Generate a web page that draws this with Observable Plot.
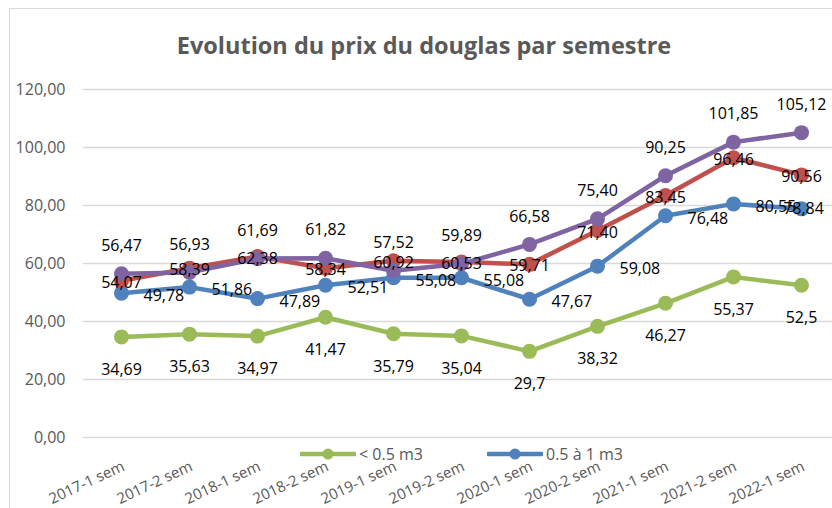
<!DOCTYPE html>
<html>
<head>
<meta charset="utf-8">
<script src="https://cdn.jsdelivr.net/npm/d3@7"></script>
<script src="https://cdn.jsdelivr.net/npm/@observablehq/plot@0.6"></script>
<style>
  html, body { margin: 0; padding: 0; background: #fff; }
  #wrap { position: relative; width: 832px; height: 508px; overflow: hidden; font-family: "Open Sans", "Noto Sans", sans-serif; }
  #frame { position: absolute; left: 9px; top: 8px; width: 900px; height: 600px; border: 1.5px solid #d9d9d9; box-sizing: border-box; pointer-events: none; }
  #title { position: relative; height: 70px; box-sizing: border-box; padding-top: 31px; padding-left: 16px; text-align: center; font-size: 23.5px; line-height: 28px; font-weight: bold; color: #595959; }
  #chart svg { display: block; }
  #legend { position: absolute; top: 444px; left: 0; width: 832px; height: 20px; font-size: 16px; color: #595959; }
  .item { position: absolute; top: 0; display: flex; align-items: center; height: 20px; white-space: nowrap; }
  .item svg { margin-right: 3px; }
</style>
</head>
<body>
<div id="wrap">
  <div id="frame"></div>
  <div id="title">Evolution du prix du douglas par semestre</div>
  <div id="chart"></div>
  <div id="legend"></div>
</div>
<script>
const categories = ["2017-1 sem", "2017-2 sem", "2018-1 sem", "2018-2 sem", "2019-1 sem", "2019-2 sem", "2020-1 sem", "2020-2 sem", "2021-1 sem", "2021-2 sem", "2022-1 sem"];
const seriesNames = ["< 0.5 m3", "0.5 à 1 m3", "1 à 2 m3", "> 2 m3"];
const seriesColors = ["#9BBB59", "#4F81BD", "#C0504D", "#8064A2"];
const smallValues = [34.69, 35.63, 34.97, 41.47, 35.79, 35.04, 29.7, 38.32, 46.27, 55.37, 52.5];
const mediumValues = [49.78, 51.86, 47.89, 52.51, 55.08, 55.08, 47.67, 59.08, 76.48, 80.55, 78.84];
const largeValues = [54.07, 58.39, 62.38, 58.34, 60.92, 60.53, 59.71, 71.40, 83.45, 96.46, 90.56];
const xlargeValues = [56.47, 56.93, 61.69, 61.82, 57.52, 59.89, 66.58, 75.40, 90.25, 101.85, 105.12];
const yTicks = [0, 20, 40, 60, 80, 100, 120];
const legendShown = [0, 1];

const allValues = [smallValues, mediumValues, largeValues, xlargeValues];
const comma = s => s.replace(".", ",");
const labelOf = (si, v) => si === 0 ? comma(String(v)) : comma(v.toFixed(2));
const lastCat = categories[categories.length - 1];
const rows = allValues.map((vals, si) => vals.map((v, i) => ({cat: categories[i], value: v, series: seriesNames[si], label: labelOf(si, v)})));

// label placement per series: below, right, center, above
const labelOpts = [
  {dy: 33, textAnchor: "middle"},
  {dx: 22, dy: 3, textAnchor: "start"},
  {dy: 2, textAnchor: "middle"},
  {dy: -28, textAnchor: "middle"}
];

const marks = [
  Plot.ruleY(yTicks, {stroke: "#d9d9d9", strokeWidth: 1.5}),
  Plot.axisY({ticks: yTicks, tickSize: 0, tickPadding: 18, tickFormat: d => comma(d.toFixed(2)), fontSize: 16, fill: "#595959"}),
  Plot.axisX({tickRotate: -25, tickSize: 0, tickPadding: 28, dx: 2, fontSize: 15, fill: "#595959"})
];
rows.forEach((r, si) => {
  marks.push(Plot.line(r, {x: "cat", y: "value", stroke: "series", strokeWidth: 4.5, strokeLinejoin: "round"}));
  marks.push(Plot.dot(r, {x: "cat", y: "value", fill: "series", r: 7.5, stroke: "none"}));
});
rows.forEach((r, si) => {
  if (si === 1) {
    // right-placed labels; the last one is pulled back inside the chart edge
    marks.push(Plot.text(r.filter(d => d.cat !== lastCat), {x: "cat", y: "value", text: "label", fontSize: 16, fill: "#000", lineAnchor: "middle", ...labelOpts[si]}));
    marks.push(Plot.text(r.filter(d => d.cat === lastCat), {x: "cat", y: "value", text: "label", fontSize: 16, fill: "#000", lineAnchor: "middle", textAnchor: "middle", dx: 2}));
  } else {
    marks.push(Plot.text(r, {x: "cat", y: "value", text: "label", fontSize: 16, fill: "#000", lineAnchor: "middle", ...labelOpts[si]}));
  }
});

const chart = Plot.plot({
  width: 832,
  height: 438,
  marginTop: 19,
  marginBottom: 71,
  marginLeft: 83,
  marginRight: 0,
  style: {fontFamily: "'Open Sans', 'Noto Sans', sans-serif", background: "transparent", overflow: "visible"},
  x: {type: "point", domain: categories, range: [117, 805], padding: 0, label: null},
  y: {domain: [0, 120], label: null},
  color: {domain: seriesNames, range: seriesColors},
  marks
});
document.getElementById("chart").appendChild(chart);

// legend (HTML overlay, as in the original where it overlaps the axis labels)
const legend = document.getElementById("legend");
const legendLeft = [300, 487];
legendShown.forEach((si, k) => {
  const item = document.createElement("div");
  item.className = "item";
  item.style.left = legendLeft[k] + "px";
  const c = seriesColors[si];
  item.innerHTML = `<svg width="56" height="16"><line x1="1" y1="8" x2="55" y2="8" stroke="${c}" stroke-width="4.5" stroke-linecap="round"/><circle cx="28" cy="8" r="5.5" fill="${c}"/></svg><span>${seriesNames[si]}</span>`;
  legend.appendChild(item);
});
</script>
</body>
</html>
